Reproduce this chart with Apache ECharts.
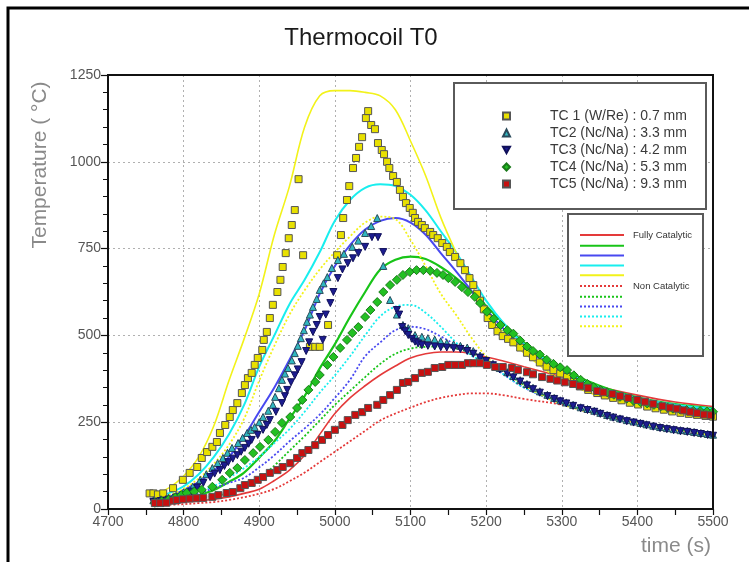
<!DOCTYPE html>
<html>
<head>
<meta charset="utf-8">
<script src="https://cdn.jsdelivr.net/npm/echarts@6/dist/echarts.min.js"></script>
<style>
  html, body { margin: 0; padding: 0; background: #fff; }
  #chart { width: 749px; height: 562px; }
</style>
</head>
<body>
<div id="chart"></div>
<script>
// Measured thermocouple temperatures, [time (s), temperature (°C)]
const tc1 = [[4755,45],[4760,45],[4766,42],[4773,45],[4786,60],[4799,84],[4808,104],[4818,121],[4824,147],[4831,164],[4838,179],[4844,193],[4848,219],[4855,242],[4861,265],[4865,285],[4871,305],[4877,334],[4881,357],[4885,377],[4890,392],[4894,415],[4898,435],[4904,458],[4906,487],[4910,510],[4914,550],[4918,588],[4924,625],[4928,660],[4931,697],[4935,737],[4939,780],[4943,818],[4947,861],[4952,950],[4958,731],[4967,467],[4974,467],[4980,467],[4991,530],[5003,731],[5008,789],[5011,838],[5016,890],[5019,930],[5024,982],[5028,1011],[5032,1043],[5036,1071],[5041,1126],[5044,1146],[5048,1106],[5053,1094],[5057,1054],[5062,1034],[5065,1022],[5069,1000],[5072,982],[5077,959],[5082,942],[5086,919],[5090,899],[5094,881],[5099,867],[5103,853],[5106,838],[5110,827],[5115,818],[5119,809],[5126,798],[5130,789],[5136,780],[5142,766],[5148,755],[5152,740],[5159,726],[5166,708],[5172,688],[5178,665],[5183,645],[5188,620],[5192,600],[5197,575],[5202,550],[5208,530],[5215,512],[5222,498],[5229,490],[5236,480],[5245,465],[5254,450],[5262,437],[5271,422],[5280,410],[5289,400],[5298,390],[5307,380],[5316,366],[5324,353],[5335,343],[5347,334],[5357,327],[5368,320],[5379,313],[5390,306],[5401,301],[5413,295],[5424,290],[5435,286],[5446,281],[5457,277],[5468,274],[5479,271],[5490,268],[5500,266]];

const tc2 = [[4760,25],[4770,28],[4780,32],[4790,38],[4800,48],[4812,64],[4822,84],[4830,100],[4838,118],[4845,132],[4852,147],[4858,162],[4864,176],[4872,190],[4878,205],[4884,219],[4889,228],[4894,236],[4900,250],[4905,265],[4912,283],[4918,300],[4921,323],[4926,348],[4930,372],[4934,390],[4938,406],[4943,428],[4947,449],[4951,470],[4955,492],[4959,515],[4963,539],[4967,560],[4971,582],[4976,605],[4980,631],[4985,650],[4990,668],[4996,694],[5004,717],[5012,735],[5023,755],[5031,773],[5040,795],[5048,815],[5056,838],[5064,700],[5073,602],[5082,560],[5090,530],[5097,521],[5106,501],[5115,496],[5123,492],[5132,488],[5140,483],[5148,478],[5157,474],[5166,470],[5175,465],[5183,455],[5192,442],[5200,430],[5209,418],[5218,406],[5228,394],[5236,383],[5245,371],[5254,360],[5262,349],[5271,339],[5281,329],[5290,320],[5298,313],[5306,307],[5315,300],[5325,293],[5334,288],[5343,283],[5351,277],[5360,271],[5368,266],[5377,261],[5386,256],[5395,252],[5404,248],[5412,244],[5421,240],[5430,236],[5439,233],[5448,230],[5457,227],[5466,225],[5475,222],[5484,219],[5493,216],[5500,214]];

const tc3 = [[4760,20],[4770,23],[4780,27],[4790,33],[4800,40],[4810,50],[4818,62],[4826,75],[4835,92],[4841,102],[4848,112],[4854,124],[4859,135],[4865,145],[4871,155],[4876,165],[4881,176],[4886,188],[4890,199],[4898,213],[4905,228],[4910,242],[4914,256],[4922,280],[4930,305],[4934,325],[4937,343],[4942,365],[4947,385],[4951,402],[4956,423],[4962,455],[4966,480],[4971,510],[4976,530],[4980,553],[4984,487],[4988,560],[4994,593],[4998,625],[5004,665],[5010,690],[5017,708],[5024,722],[5031,737],[5040,755],[5049,783],[5057,783],[5064,740],[5082,573],[5085,560],[5089,524],[5093,512],[5097,501],[5102,490],[5106,482],[5110,477],[5115,472],[5123,470],[5132,468],[5140,466],[5148,465],[5157,463],[5166,461],[5175,455],[5183,447],[5192,436],[5200,426],[5209,414],[5218,402],[5228,390],[5236,379],[5245,367],[5254,356],[5262,345],[5271,335],[5281,325],[5290,317],[5298,310],[5306,304],[5315,297],[5325,290],[5334,285],[5343,280],[5351,274],[5360,268],[5368,263],[5377,258],[5386,253],[5395,249],[5404,245],[5412,241],[5421,237],[5430,233],[5439,230],[5448,227],[5457,224],[5466,222],[5475,219],[5484,216],[5493,213],[5500,211]];

const tc4 = [[4762,18],[4771,22],[4780,27],[4789,33],[4797,40],[4804,46],[4814,50],[4824,55],[4838,64],[4851,84],[4861,104],[4871,118],[4881,141],[4892,161],[4901,179],[4912,199],[4921,222],[4930,248],[4941,265],[4950,291],[4957,314],[4965,343],[4974,366],[4980,386],[4990,415],[4998,438],[5007,464],[5016,487],[5023,507],[5031,524],[5040,553],[5047,573],[5056,596],[5064,625],[5073,645],[5082,660],[5090,674],[5099,683],[5108,688],[5117,688],[5126,686],[5135,680],[5143,674],[5150,665],[5159,654],[5168,639],[5176,625],[5185,611],[5192,593],[5201,568],[5210,548],[5219,530],[5228,515],[5236,505],[5245,485],[5254,468],[5262,455],[5271,445],[5280,430],[5289,418],[5298,408],[5307,400],[5316,385],[5325,372],[5334,360],[5342,351],[5351,343],[5360,336],[5369,329],[5377,323],[5386,318],[5395,312],[5404,308],[5413,304],[5422,300],[5431,296],[5440,292],[5447,289],[5456,287],[5465,285],[5474,283],[5483,282],[5492,281],[5500,280]];

const tc5 = [[4762,17],[4769,17],[4777,18],[4786,24],[4791,26],[4799,28],[4808,30],[4817,31],[4826,32],[4838,35],[4846,40],[4857,46],[4865,49],[4875,60],[4881,69],[4890,75],[4898,84],[4905,92],[4914,104],[4924,112],[4931,121],[4941,132],[4950,147],[4957,161],[4965,170],[4974,184],[4983,199],[4991,213],[5000,228],[5010,242],[5017,256],[5027,271],[5036,279],[5044,291],[5056,300],[5064,314],[5073,328],[5082,343],[5090,363],[5097,366],[5106,377],[5115,392],[5123,395],[5132,406],[5142,409],[5150,415],[5159,415],[5168,415],[5176,420],[5183,420],[5192,420],[5201,415],[5212,409],[5222,409],[5234,406],[5242,400],[5254,394],[5262,388],[5274,380],[5285,375],[5294,370],[5304,365],[5315,360],[5324,355],[5335,349],[5347,340],[5355,336],[5367,331],[5377,325],[5388,320],[5400,314],[5410,309],[5421,303],[5433,296],[5443,292],[5452,289],[5461,284],[5470,280],[5479,276],[5488,272],[5497,270]];

// Computed curves, sampled on a common time base
const modelTime = [4760,4780,4800,4820,4840,4860,4880,4900,4920,4940,4960,4980,5000,5020,5040,5060,5080,5100,5120,5140,5160,5180,5200,5225,5250,5300,5350,5400,5450,5500];

const fullyTC5 = [12,15,20,24,28,35,45,57,82,112,155,215,275,320,355,386,412,435,447,452,452,448,438,425,410,381,352,328,308,295];
const fullyTC4 = [15,20,28,40,55,78,105,148,195,260,325,405,475,553,625,690,718,727,720,697,666,628,585,530,480,405,355,322,302,290];
const fullyTC3 = [25,35,55,78,110,150,210,280,350,430,515,620,700,760,805,830,838,825,790,737,685,630,575,515,465,395,348,318,298,285];
const fullyTC2 = [30,45,65,100,150,215,300,410,500,590,660,740,830,890,925,935,930,905,860,800,740,670,600,530,475,400,350,320,300,288];
const fullyTC1 = [40,60,95,150,240,370,490,620,790,930,1100,1190,1205,1205,1200,1190,1150,1060,960,840,740,650,570,500,450,370,325,300,280,268];

const nonTC5 = [10,12,14,17,20,26,34,44,58,80,105,135,165,195,225,255,275,292,308,320,328,333,333,327,317,300,272,250,230,215];
const nonTC4 = [15,20,25,30,38,46,65,88,125,168,210,255,300,340,380,418,447,462,467,468,463,450,430,395,358,306,276,251,231,217];
const nonTC3 = [18,24,32,45,60,75,90,120,155,195,232,272,320,372,440,480,515,525,518,497,473,452,425,385,350,303,273,249,229,214];
const nonTC2 = [20,28,40,52,66,90,118,150,190,230,280,335,385,440,500,555,583,588,565,525,480,443,420,385,350,305,275,250,230,216];
const nonTC1 = [28,40,58,88,130,185,260,370,470,560,630,690,740,785,825,842,835,775,700,620,560,495,440,395,355,302,272,248,228,212];

const xTicks = { min: 4700, max: 5500, step: 100 };
const yTicks = { min: 0, max: 1250, step: 250 };

const FONT = '"Liberation Sans", Arial, sans-serif';

const pair = (ts, vs) => ts.map((t, i) => [t, vs[i]]);

const lineDefs = [
  { name: 'FC-TC5', values: fullyTC5, color: '#e43a3a', type: 'solid', width: 1.6 },
  { name: 'FC-TC4', values: fullyTC4, color: '#18c418', type: 'solid', width: 2.2 },
  { name: 'FC-TC3', values: fullyTC3, color: '#4848f0', type: 'solid', width: 2 },
  { name: 'FC-TC2', values: fullyTC2, color: '#18eeee', type: 'solid', width: 2 },
  { name: 'FC-TC1', values: fullyTC1, color: '#f2f21a', type: 'solid', width: 1.6 },
  { name: 'NC-TC5', values: nonTC5, color: '#e43a3a', type: 'dotted', width: 1.8 },
  { name: 'NC-TC4', values: nonTC4, color: '#18c418', type: 'dotted', width: 1.8 },
  { name: 'NC-TC3', values: nonTC3, color: '#4848f0', type: 'dotted', width: 1.8 },
  { name: 'NC-TC2', values: nonTC2, color: '#18eeee', type: 'dotted', width: 1.8 },
  { name: 'NC-TC1', values: nonTC1, color: '#f2f21a', type: 'dotted', width: 1.8 }
];

const downTriangle = 'path://M0,0 L10,0 L5,9 Z';

const markerDefs = [
  { name: 'TC 1 (W/Re) : 0.7 mm', data: tc1, symbol: 'rect', size: 7, color: '#e8e000', border: '#555' },
  { name: 'TC2 (Nc/Na) : 3.3 mm', data: tc2, symbol: 'triangle', size: 7, color: '#30b8c0', border: '#2a4a5a' },
  { name: 'TC3 (Nc/Na) : 4.2 mm', data: tc3, symbol: downTriangle, size: 7, color: '#1c1c90', border: '#10105a' },
  { name: 'TC4 (Nc/Na) : 5.3 mm', data: tc4, symbol: 'diamond', size: 9, color: '#22c022', border: '#1a7a1a' },
  { name: 'TC5 (Nc/Na) : 9.3 mm', data: tc5, symbol: 'rect', size: 7, color: '#c81010', border: '#555' }
];

const series = [];
lineDefs.forEach(d => {
  series.push({
    name: d.name,
    type: 'line',
    data: pair(modelTime, d.values),
    smooth: 0.35,
    symbol: 'none',
    showSymbol: false,
    lineStyle: { color: d.color, width: d.width, type: d.type === 'dotted' ? [2, 2] : 'solid' },
    itemStyle: { color: d.color },
    z: 2,
    silent: true
  });
});
markerDefs.forEach(d => {
  series.push({
    name: d.name,
    type: 'scatter',
    data: d.data,
    symbol: d.symbol,
    symbolSize: d.size,
    itemStyle: { color: d.color, borderColor: d.border, borderWidth: 1, opacity: 1 },
    z: 3,
    silent: true
  });
});

const plainNumber = v => String(v);

const chart = echarts.init(document.getElementById('chart'), null, { renderer: 'canvas' });

chart.setOption({
  animation: false,
  backgroundColor: '#ffffff',
  textStyle: { fontFamily: FONT },
  title: {
    text: 'Thermocoil T0',
    left: 356,
    top: 21,
    textAlign: 'center',
    textStyle: { fontFamily: FONT, fontSize: 24, fontWeight: 'normal', color: '#1a1a1a' }
  },
  grid: {
    left: 108, right: 36, top: 75, bottom: 53,
    containLabel: false,
    outerBoundsMode: 'none',
    show: false
  },
  xAxis: {
    type: 'value',
    min: xTicks.min, max: xTicks.max, interval: xTicks.step,
    name: 'time (s)',
    nameLocation: 'end',
    nameGap: 0,
    nameTextStyle: { fontFamily: FONT, fontSize: 21, color: '#8a8a8a', align: 'right', verticalAlign: 'top', padding: [27, 2, 0, 0] },
    axisLine: { show: true, onZero: false, lineStyle: { color: '#111', width: 2 } },
    axisTick: { show: true, inside: false, length: 6, lineStyle: { color: '#111', width: 1.2 } },
    minorTick: { show: true, splitNumber: 2, length: 6, lineStyle: { color: '#111', width: 1.2 } },
    axisLabel: { show: true, margin: 6, fontFamily: FONT, fontSize: 14, color: '#555', formatter: plainNumber, showMinLabel: true, showMaxLabel: true, hideOverlap: false },
    splitLine: { show: true, lineStyle: { color: '#b0b0b0', type: [2, 3], width: 1 } },
    minorSplitLine: { show: false }
  },
  yAxis: {
    type: 'value',
    min: yTicks.min, max: yTicks.max, interval: yTicks.step,
    axisLine: { show: true, onZero: false, lineStyle: { color: '#111', width: 2 } },
    axisTick: { show: true, inside: false, length: 7, lineStyle: { color: '#111', width: 1.2 } },
    minorTick: { show: true, splitNumber: 5, length: 5, lineStyle: { color: '#111', width: 1 } },
    axisLabel: { show: true, margin: 7, fontFamily: FONT, fontSize: 14, color: '#555', formatter: plainNumber, showMinLabel: true, showMaxLabel: true, hideOverlap: false },
    splitLine: { show: true, lineStyle: { color: '#b0b0b0', type: [2, 3], width: 1 } },
    minorSplitLine: { show: false }
  },
  legend: [
    {
      data: markerDefs.map(d => d.name),
      orient: 'vertical',
      left: 502,
      top: 109,
      padding: 0,
      itemWidth: 7,
      itemHeight: 7,
      itemGap: 3,
      selectedMode: false,
      symbolRotate: 0,
      textStyle: { fontFamily: FONT, fontSize: 14, color: '#3a3a3a', lineHeight: 14, padding: [0, 0, 0, 35] }
    },
    {
      data: lineDefs.map(d => d.name),
      orient: 'vertical',
      left: 579,
      top: 230,
      padding: 0,
      itemWidth: 44,
      itemHeight: 10,
      itemGap: 1.8,
      selectedMode: false,
      itemStyle: { opacity: 0, borderWidth: 0 },
      formatter: name => (name === 'FC-TC5' ? 'Fully Catalytic' : name === 'NC-TC5' ? 'Non Catalytic' : ''),
      textStyle: { fontFamily: FONT, fontSize: 9.5, color: '#333', lineHeight: 10, padding: [0, 0, 0, 4] }
    }
  ],
  graphic: [
    // outer frame of the figure
    { type: 'rect', shape: { x: 8, y: 8, width: 760, height: 600 }, style: { fill: 'none', stroke: '#000', lineWidth: 3 }, silent: true, z: 10 },
    // plot frame
    { type: 'rect', shape: { x: 108, y: 75, width: 605, height: 434 }, style: { fill: 'none', stroke: '#111', lineWidth: 2 }, silent: true, z: 5 },
    // legend boxes
    { type: 'rect', shape: { x: 454, y: 83, width: 252, height: 126 }, style: { fill: '#fff', stroke: '#5a5a5a', lineWidth: 2 }, silent: true, z: 4 },
    { type: 'rect', shape: { x: 568, y: 214, width: 135, height: 142 }, style: { fill: '#fff', stroke: '#5a5a5a', lineWidth: 2 }, silent: true, z: 4 },
    // vertical axis title
    {
      type: 'text',
      x: 40, y: 165,
      rotation: Math.PI / 2,
      style: { text: 'Temperature ( °C)', font: '21px ' + FONT, fill: '#8a8a8a', textAlign: 'center', textVerticalAlign: 'middle', align: 'center', verticalAlign: 'middle' },
      silent: true,
      z: 10
    }
  ],
  series: series
});
</script>
</body>
</html>
